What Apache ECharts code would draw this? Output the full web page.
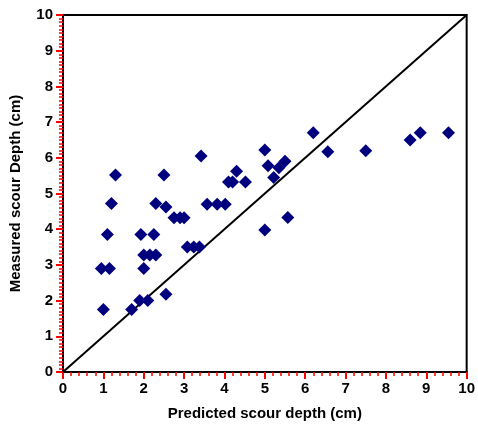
<!DOCTYPE html>
<html>
<head>
<meta charset="utf-8">
<script src="https://cdn.jsdelivr.net/npm/echarts@6/dist/echarts.min.js"></script>
<style>
  html, body { margin: 0; padding: 0; background: #fff; }
  #chart { width: 478px; height: 432px; }
</style>
</head>
<body>
<div id="chart"></div>
<script>
// predicted vs measured scour depth (cm)
const predicted = [1.0, 0.95, 1.15, 1.1, 1.2, 1.3, 1.7, 1.9, 2.1, 2.0, 2.0, 2.15, 2.3, 1.93, 2.25,
  2.3, 2.55, 2.5, 2.55, 2.75, 2.9, 3.0, 3.08, 3.24, 3.38, 3.42, 3.57, 3.82, 4.02, 4.1, 4.2,
  4.3, 4.52, 5.0, 5.08, 5.22, 5.35, 5.5, 5.0, 5.57, 6.2, 6.56, 7.5, 8.6, 8.85, 9.55];
const measured = [1.75, 2.9, 2.9, 3.85, 4.72, 5.52, 1.75, 2.0, 2.0, 2.9, 3.28, 3.28, 3.28, 3.85, 3.85,
  4.72, 4.62, 5.52, 2.18, 4.32, 4.32, 4.32, 3.5, 3.5, 3.5, 6.05, 4.7, 4.7, 4.7, 5.32, 5.32,
  5.62, 5.32, 6.22, 5.78, 5.45, 5.72, 5.9, 3.98, 4.33, 6.7, 6.17, 6.2, 6.5, 6.7, 6.7];
// 1:1 line
const perfectLine = [[0, 0], [10, 10]];

const chart = echarts.init(document.getElementById('chart'));

const labelFont = { color: '#000', fontWeight: 'bold', fontSize: 15, fontFamily: 'Liberation Sans' };

function makeAxis(name, gap, margin, minorSplit) {
  return {
    type: 'value',
    min: 0,
    max: 10,
    interval: 1,
    name: name,
    nameLocation: 'middle',
    nameGap: gap,
    nameTextStyle: Object.assign({}, labelFont),
    axisLine: { show: true, lineStyle: { color: '#000', width: 2 } },
    axisTick: { show: true, length: 7, lineStyle: { color: 'red', width: 2 } },
    minorTick: { show: true, splitNumber: minorSplit, length: 4, lineStyle: { color: 'red', width: 1.5 } },
    axisLabel: Object.assign({ margin: margin }, labelFont),
    splitLine: { show: false }
  };
}

chart.setOption({
  animation: false,
  grid: {
    left: 62, right: 11, top: 15, bottom: 60,
    show: true, borderColor: '#000', borderWidth: 2
  },
  xAxis: makeAxis('Predicted scour depth (cm)', 34, 9, 5),
  yAxis: makeAxis('Measured scour Depth (cm)', 40, 10, 10),
  series: [
    {
      type: 'scatter',
      data: predicted.map((x, i) => [x, measured[i]]),
      symbol: 'diamond',
      symbolSize: 13,
      itemStyle: { color: '#00007f', opacity: 1 },
      z: 2,
      markLine: {
        silent: true,
        symbol: 'none',
        label: { show: false },
        lineStyle: { color: '#000', width: 2, type: 'solid' },
        z: 1,
        data: [[{ coord: perfectLine[0] }, { coord: perfectLine[1] }]]
      }
    }
  ]
});
</script>
</body>
</html>
